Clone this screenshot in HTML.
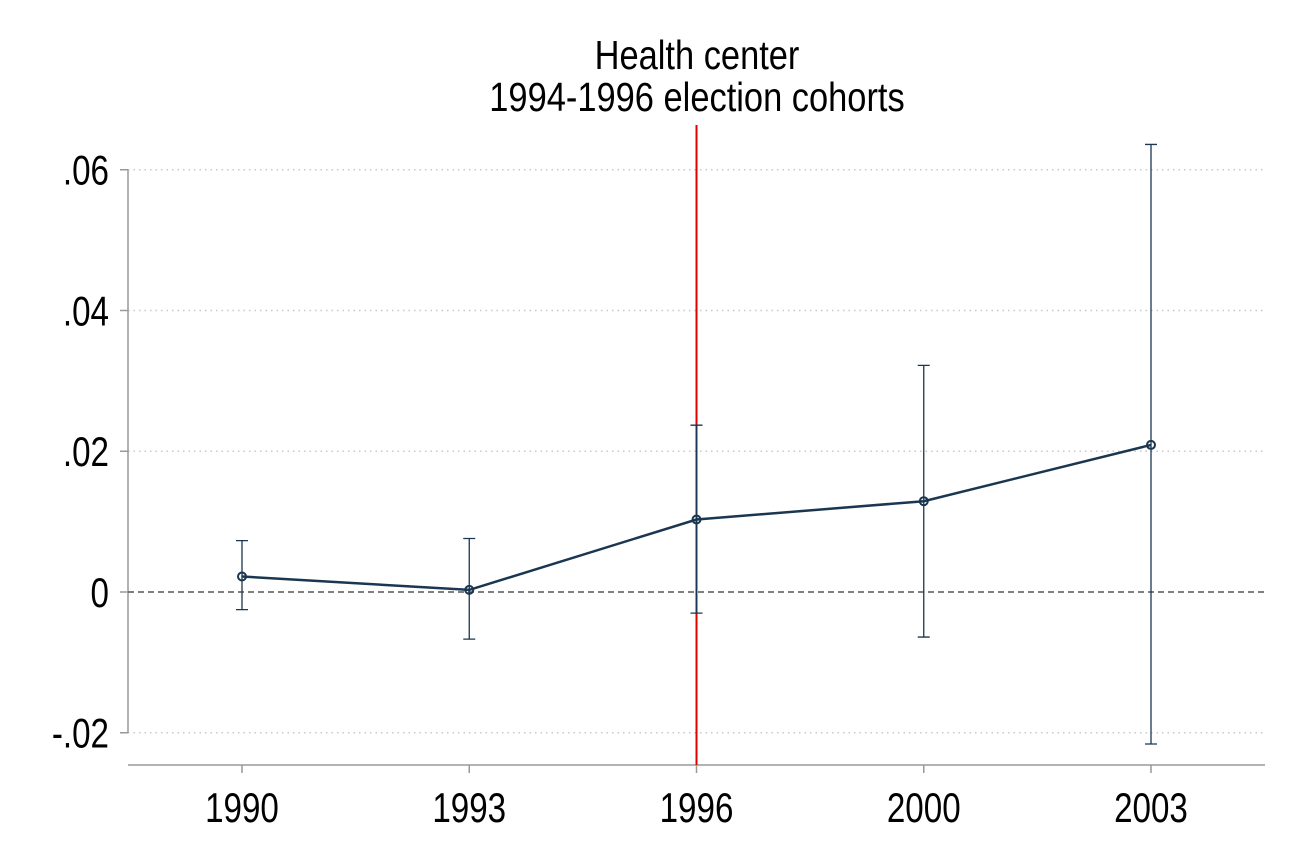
<!DOCTYPE html>
<html><head><meta charset="utf-8"><style>
html,body{margin:0;padding:0;background:#fff;}
svg{display:block;font-family:"Liberation Sans",Arial,sans-serif;}
</style></head><body>
<svg id="chart" width="1296" height="864" viewBox="0 0 1296 864" xmlns="http://www.w3.org/2000/svg">
<rect width="1296" height="864" fill="#fff"/>
<g id="grid"></g>
<g id="axes"></g>
<g id="marks"></g>
<text x="697" y="69" text-anchor="middle" font-size="41" transform="translate(697 0) scale(0.84 1) translate(-697 0)">Health center</text>
<text x="697" y="111" text-anchor="middle" font-size="41" transform="translate(697 0) scale(0.84 1) translate(-697 0)">1994-1996 election cohorts</text>
</svg>
<script>
const categories = ["1990","1993","1996","2000","2003"];
const estimates = [0.0022, 0.0003, 0.0103, 0.0129, 0.0209];
const ciUpper = [0.0073, 0.0076, 0.0237, 0.0322, 0.0636];
const ciLower = [-0.0025, -0.0067, -0.0030, -0.0064, -0.0216];
const yTicks = [-0.02, 0, 0.02, 0.04, 0.06];
const yTickLabels = ["-.02","0",".02",".04",".06"];
const eventCategory = "1996";

const NS = "http://www.w3.org/2000/svg";
const xPos = i => 242 + i * 227.25;
const yPos = v => 592 - v * 7037.5;
const left = 128, right = 1265, bottom = 765;
function mk(parent, tag, attrs){const e=document.createElementNS(NS,tag);for(const k in attrs)e.setAttribute(k,attrs[k]);document.getElementById(parent).appendChild(e);return e;}

yTicks.forEach((t,i)=>{
  if(t!==0){
    const g=mk("grid","line",{x1:left,x2:right,y1:yPos(t),y2:yPos(t),stroke:"#c8c8c8","stroke-width":1.5,"stroke-dasharray":"1.5 4"});
    
    
  }
  const tk=mk("axes","line",{x1:left-8,x2:left,y1:yPos(t),y2:yPos(t),stroke:"#999","stroke-width":1.5});
  
  
  const lb=mk("axes","text",{x:109,y:yPos(t)+15,"text-anchor":"end","font-size":42,transform:"translate(109 0) scale(0.79 1) translate(-109 0)"});
  lb.textContent=yTickLabels[i];
  
  
});
const ya=mk("axes","line",{x1:left,x2:left,y1:yPos(0.06),y2:yPos(-0.02),stroke:"#999","stroke-width":1.5});


const xa=mk("axes","line",{x1:left,x2:right,y1:bottom,y2:bottom,stroke:"#999","stroke-width":1.5});


categories.forEach((c,i)=>{
  const x=xPos(i);
  const tk=mk("axes","line",{x1:x,x2:x,y1:bottom,y2:bottom+8,stroke:"#999","stroke-width":1.5});
  
  
  const lb=mk("axes","text",{x:x,y:822,"text-anchor":"middle","font-size":42,transform:`translate(${x} 0) scale(0.79 1) translate(${-x} 0)`});
  lb.textContent=c;
  
  
});
const zl=mk("marks","line",{x1:left,x2:right,y1:yPos(0),y2:yPos(0),stroke:"#555","stroke-width":1.5,"stroke-dasharray":"6 4"});


const ei=categories.indexOf(eventCategory);
const rl=mk("marks","line",{x1:xPos(ei),x2:xPos(ei),y1:125,y2:bottom,stroke:"#e00000","stroke-width":2});


categories.forEach((c,i)=>{
  const x=xPos(i);
  const ci=mk("marks","path",{d:`M${x},${yPos(ciUpper[i])}V${yPos(ciLower[i])}M${x-6},${yPos(ciUpper[i])}H${x+6}M${x-6},${yPos(ciLower[i])}H${x+6}`,stroke:"#1a3650","stroke-width":1.3,fill:"none"});
  
  
});
const pl=mk("marks","polyline",{points:estimates.map((v,i)=>`${xPos(i)},${yPos(v)}`).join(" "),fill:"none",stroke:"#1a3650","stroke-width":2.5});


estimates.forEach((v,i)=>{
  const p=mk("marks","circle",{cx:xPos(i),cy:yPos(v),r:4,fill:"none",stroke:"#1a3650","stroke-width":2});
  
  
});
</script>
</body></html>
